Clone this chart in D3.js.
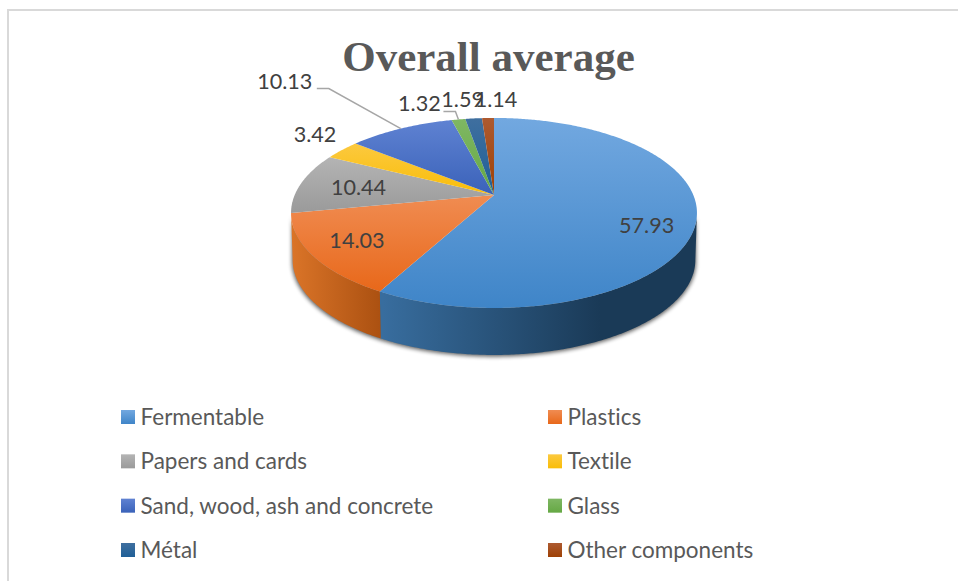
<!DOCTYPE html>
<html>
<head>
<meta charset="utf-8">
<script src="https://cdn.jsdelivr.net/npm/d3@7"></script>
<style>
html,body{margin:0;padding:0;background:#fff;}
svg{display:block;}
text{font-family:Lato,"Open Sans",sans-serif;font-variant-ligatures:none;}
</style>
</head>
<body>
<svg id="chart" width="958" height="581"></svg>
<script>
const chartTitle = "Overall average";
const categories = ["Fermentable","Plastics","Papers and cards","Textile","Sand, wood, ash and concrete","Glass","Métal","Other components"];
const shares = [57.93,14.03,10.44,3.42,10.13,1.32,1.59,1.14];
const shareLabels = ["57.93","14.03","10.44","3.42","10.13","1.32","1.59","1.14"];

// colour ramps per slice: top surface light → dark, wall left → right
const topLight = ["#72a8e0","#f08c52","#b4b4b4","#fcc93f","#5f82d2","#7fb763","#3f6f9f","#ad5a30"];
const topDark  = ["#3f85c8","#e8681a","#9a9a9a","#f9bd08","#3a62b9","#65a844","#1f5f97","#9e4105"];
const wallLeft  = {0:"#386d9e",1:"#da7428"};
const wallRight = {0:"#1a3a57",1:"#a94f10"};

// pixel offset of each value label from the rim point at its slice's mid angle
const labelShift = [[-50,7],[44,-15],[57,5],[-27,-16],[-116,-47],[-39,-16],[-11,-19],[8,-19]];
// slices whose labels are tied back with a leader line: label-side elbow offsets from the rim
const leaders = {4:[[-84,-40],[-72,-40],[0,0]], 5:[[-15,-8],[-3,-8],[0,0]]};

const svg = d3.select("#chart");
const defs = svg.append("defs");

// The disc is a circle seen in perspective: points nearer the viewer spread further.
const cx = 494, apexY = 195, tilt = -0.189, depth = 47;
const xPlane = d3.scaleLinear().domain([-1,1]).range([cx-199.3,cx+199.3]);
const yPlane = d3.scaleLinear().domain([-1,1]).range([apexY-91.6,apexY+91.6]);
function rim(angle, r=1, drop=0, shrink=1){
  const u = r*Math.sin(angle), v = -r*Math.cos(angle), d = 1+tilt*v;
  const x = xPlane(u/d), y = yPlane(v/d);
  return [cx+(x-cx)*shrink, y*1+drop];
}
function arcSamples(a0,a1,drop=0,shrink=1){
  const n = Math.max(2,Math.ceil(Math.abs(a1-a0)/0.01));
  return d3.range(n+1).map(i=>rim(a0+(a1-a0)*i/n,1,drop,shrink));
}
const line = d3.line();

const slices = d3.pie().sort(null).value(d=>d).startAngle(0).endAngle(2*Math.PI)(shares);

// frame around the chart area
svg.append("path").attr("d",d3.line()([[8,581],[8,10],[958,10]]))
  .attr("fill","none").attr("stroke","#d9d9d9").attr("stroke-width",2);

// title
svg.append("text").attr("x",488.5).attr("y",70.5).attr("text-anchor","middle")
  .style("font-family","'Liberation Serif',serif").style("font-weight","700")
  .style("font-size","43px").attr("fill","#595959").text(chartTitle);

// surface gradients
categories.forEach((c,i)=>{
  const g = defs.append("linearGradient").attr("id","top"+i).attr("x1",0).attr("x2",0).attr("y1",0).attr("y2",1);
  g.append("stop").attr("offset",0).attr("stop-color",topLight[i]);
  g.append("stop").attr("offset",1).attr("stop-color",topDark[i]);
});
Object.keys(wallLeft).forEach(i=>{
  const blue = +i===0;
  const g = defs.append("linearGradient").attr("id","wall"+i).attr("gradientUnits","userSpaceOnUse")
    .attr("x1",blue?383:292).attr("x2",blue?600:385).attr("y1",0).attr("y2",0);
  g.append("stop").attr("offset",0).attr("stop-color",wallLeft[i]);
  g.append("stop").attr("offset",1).attr("stop-color",wallRight[i]);
});
defs.append("filter").attr("id","soft").attr("x","-10%").attr("y","-10%").attr("width","120%").attr("height","120%")
  .append("feGaussianBlur").attr("stdDeviation",2);

// soft shadow below the disc
const tangent = Math.acos(tilt);
svg.append("path").attr("filter","url(#soft)").attr("fill","#000").attr("opacity",0.65)
  .attr("d",line(arcSamples(tangent,2*Math.PI-tangent,depth+1.5,0.995).concat(arcSamples(2*Math.PI-tangent,tangent,0,0.995)))+"Z");

// outer wall: only the near half of the rim can be seen
const wallEnd = 2*Math.PI-tangent;
slices.forEach((s,i)=>{
  const a0 = Math.max(s.startAngle,tangent), a1 = Math.min(s.endAngle,wallEnd);
  if(a1<=a0) return;
  const pts = arcSamples(a0,a1).concat(arcSamples(a1,a0,depth,0.992));
  svg.append("path").attr("d",line(pts)+"Z").attr("fill",`url(#wall${i})`);
});

// top surface
slices.forEach((s,i)=>{
  const pts = [[cx,apexY]].concat(arcSamples(s.startAngle,s.endAngle));
  svg.append("path").attr("d",line(pts)+"Z").attr("fill",`url(#top${i})`);
});

// leader lines
Object.entries(leaders).forEach(([i,offs])=>{
  const s = slices[+i], p = rim((s.startAngle+s.endAngle)/2);
  svg.append("path").attr("d",line(offs.map(o=>[p[0]+o[0],p[1]+o[1]])))
    .attr("fill","none").attr("stroke","#a6a6a6").attr("stroke-width",1.5);
});

// value labels
slices.forEach((s,i)=>{
  const p = rim((s.startAngle+s.endAngle)/2);
  svg.append("text").attr("x",p[0]+labelShift[i][0]).attr("y",p[1]+labelShift[i][1])
    .attr("text-anchor","middle").attr("dy","0.35em").attr("fill","#404040")
    .style("font-size","21.6px").text(shareLabels[i]);
});

// legend: two columns, four rows
const legendX = d3.scalePoint().domain([0,1]).range([121,548]);
const legendY = d3.scalePoint().domain([0,1,2,3]).range([417,550]);
const legend = svg.append("g").selectAll("g").data(categories).join("g")
  .attr("transform",(d,i)=>`translate(${legendX(i%2)},${legendY(Math.floor(i/2))})`);
legend.append("rect").attr("x",0).attr("y",-7).attr("width",14).attr("height",14)
  .attr("fill",(d,i)=>`url(#top${i})`);
legend.append("text").attr("x",19.5).attr("dy","0.35em").attr("fill","#595959")
  .style("font-size","22.5px").text(d=>d);
</script>
</body>
</html>
